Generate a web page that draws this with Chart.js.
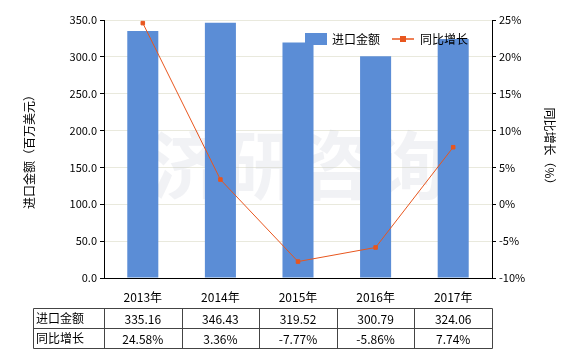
<!DOCTYPE html>
<html>
<head>
<meta charset="utf-8">
<script src="https://cdn.jsdelivr.net/npm/chart.js@4.4.0/dist/chart.umd.min.js"></script>
<style>
  html, body { margin: 0; padding: 0; background: #fff; }
  #wrap { width: 580px; height: 350px; }
</style>
</head>
<body>
<div id="wrap"><canvas id="chart" width="580" height="350"></canvas></div>
<script>
// 数据
const years = ['2013年', '2014年', '2015年', '2016年', '2017年'];
const importValues = [335.16, 346.43, 319.52, 300.79, 324.06];
const growthRates = [24.58, 3.36, -7.77, -5.86, 7.74];
const importLabel = '进口金额';
const growthLabel = '同比增长';

const FONT = "'Noto Sans CJK SC', 'DejaVu Sans', sans-serif";
const BAR_COLOR = '#5B8DD6';
const LINE_COLOR = '#E8561E';

// 水印
const watermark = {
  id: 'watermark',
  beforeDatasetsDraw(chart) {
    const ctx = chart.ctx;
    ctx.save();
    ctx.font = "bold 74px " + FONT;
    ctx.fillStyle = 'rgba(200, 205, 215, 0.25)';
    ctx.textAlign = 'center';
    ctx.textBaseline = 'middle';
    const a = chart.chartArea;
    ctx.fillText('济研咨询', (a.left + a.right) / 2, 165);
    ctx.restore();
  }
};

// 图例
const legendPlugin = {
  id: 'customLegend',
  afterDraw(chart) {
    const ctx = chart.ctx;
    ctx.save();
    ctx.font = "12px " + FONT;
    ctx.textBaseline = 'middle';
    ctx.fillStyle = BAR_COLOR;
    ctx.fillRect(305, 33, 22, 12);
    ctx.fillStyle = '#000';
    ctx.fillText(importLabel, 332, 39);
    ctx.strokeStyle = LINE_COLOR;
    ctx.lineWidth = 1.5;
    ctx.beginPath();
    ctx.moveTo(392, 39);
    ctx.lineTo(414, 39);
    ctx.stroke();
    ctx.fillStyle = LINE_COLOR;
    ctx.fillRect(400, 36, 6, 6);
    ctx.fillStyle = '#000';
    ctx.fillText(growthLabel, 420, 39);
    ctx.restore();
  }
};

// 数据表
const tablePlugin = {
  id: 'dataTable',
  afterDraw(chart) {
    const ctx = chart.ctx;
    const x = chart.scales.x;
    const a = chart.chartArea;
    const left = 33, top = 308, rowH = 20;
    const colW = (a.right - a.left) / years.length;
    ctx.save();
    ctx.strokeStyle = '#444';
    ctx.lineWidth = 1;
    ctx.beginPath();
    ctx.rect(left + 0.5, top + 0.5, a.right - left, rowH * 2);
    ctx.moveTo(left, top + rowH + 0.5);
    ctx.lineTo(a.right, top + rowH + 0.5);
    for (let i = 0; i < years.length; i++) {
      const cx = Math.round(a.left + colW * i) + 0.5;
      ctx.moveTo(cx, top);
      ctx.lineTo(cx, top + rowH * 2);
    }
    ctx.stroke();

    ctx.font = "12px " + FONT;
    ctx.fillStyle = '#000';
    ctx.textBaseline = 'middle';
    ctx.textAlign = 'left';
    ctx.fillText(importLabel, left + 3, top + rowH / 2);
    ctx.fillText(growthLabel, left + 3, top + rowH * 1.5);
    ctx.textAlign = 'center';
    years.forEach((y, i) => {
      const cx = x.getPixelForValue(i);
      ctx.fillText(importValues[i].toFixed(2), cx, top + rowH / 2 + 1);
      ctx.fillText(growthRates[i].toFixed(2) + '%', cx, top + rowH * 1.5 + 1);
    });
    ctx.restore();
  }
};

new Chart(document.getElementById('chart'), {
  data: {
    labels: years,
    datasets: [
      {
        type: 'line',
        label: growthLabel,
        data: growthRates,
        yAxisID: 'y1',
        borderColor: LINE_COLOR,
        backgroundColor: LINE_COLOR,
        borderWidth: 1,
        pointStyle: 'rect',
        pointRadius: 2.5,
        order: 0
      },
      {
        type: 'bar',
        label: importLabel,
        data: importValues,
        yAxisID: 'y',
        backgroundColor: BAR_COLOR,
        barPercentage: 0.4,
        categoryPercentage: 1,
        order: 1
      }
    ]
  },
  options: {
    responsive: false,
    animation: false,
    layout: { padding: { top: 20, left: 0, right: 0, bottom: 0 } },
    plugins: {
      legend: { display: false },
      tooltip: { enabled: false }
    },
    scales: {
      x: {
        grid: { display: false },
        border: { color: '#000' },
        ticks: { color: '#000', font: { size: 12, family: FONT }, padding: 4 },
        afterFit(s) { s.height = 72; }
      },
      y: {
        position: 'left',
        min: 0, max: 350,
        ticks: {
          stepSize: 50,
          color: '#000',
          font: { size: 11, family: FONT },
          padding: 3,
          callback: v => v.toFixed(1)
        },
        grid: { color: '#e9e9dd', tickColor: '#000', tickLength: 4 },
        border: { color: '#000' },
        title: {
          display: true,
          text: '进口金额（百万美元）',
          color: '#000',
          font: { size: 12, family: FONT },
          padding: { top: 22, bottom: 0 }
        },
        afterFit(s) { s.width = 104; }
      },
      y1: {
        position: 'right',
        min: -10, max: 25,
        ticks: {
          stepSize: 5,
          color: '#000',
          font: { size: 11, family: FONT },
          padding: 3,
          callback: v => v + '%'
        },
        grid: { drawOnChartArea: false, tickColor: '#000', tickLength: 4 },
        border: { color: '#000' },
        title: {
          display: true,
          text: '同比增长（%）',
          color: '#000',
          font: { size: 12, family: FONT },
          padding: { top: 23, bottom: 0 }
        },
        afterFit(s) { s.width = 88; }
      }
    }
  },
  plugins: [watermark, legendPlugin, tablePlugin]
});
</script>
</body>
</html>
